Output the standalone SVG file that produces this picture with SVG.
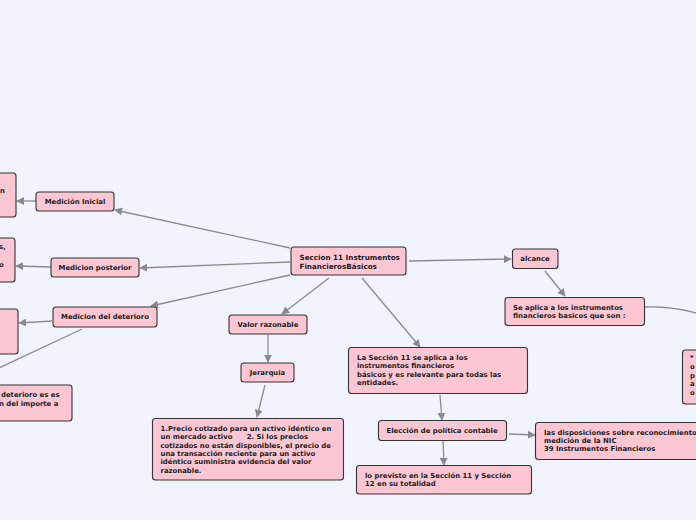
<svg xmlns="http://www.w3.org/2000/svg" width="696" height="520" viewBox="0 0 696 520">
<defs>
<marker id="ah" viewBox="0 0 10 10" refX="9" refY="5" markerWidth="8" markerHeight="8" markerUnits="userSpaceOnUse" orient="auto">
<path d="M0,0 L10,5 L0,10 z" fill="#8a8a8e"/>
</marker>
</defs>
<style>
.bg{fill:#f2f4fd}
.n{fill:#fcc7d3;stroke:#333;stroke-width:1.1}
.t{font-family:"DejaVu Sans",Verdana,sans-serif;font-weight:bold;font-size:6.9px;fill:#1a1a1a}
.c{fill:none;stroke:#8a8a8e;stroke-width:1.3}
.a{marker-end:url(#ah)}
</style>
<rect class="bg" x="0" y="0" width="696" height="520"/>
<g id="connectors">
<path class="c a" d="M290,248 L115,210"/>
<path class="c a" d="M36,201 L17,201"/>
<path class="c a" d="M290,262 L140,268"/>
<path class="c a" d="M51,267 L16,266"/>
<path class="c a" d="M290,275 L151,306"/>
<path class="c a" d="M52,321 L19,323"/>
<path class="c" d="M82,329 L-20,377"/>
<path class="c a" d="M329,278 L282,314"/>
<path class="c a" d="M268,335 L268,362"/>
<path class="c a" d="M265,385 L257,417"/>
<path class="c a" d="M362,278 L420,347"/>
<path class="c a" d="M440,395 L442,420"/>
<path class="c a" d="M509,434 L535,435"/>
<path class="c a" d="M443,441 L444,465"/>
<path class="c a" d="M409,261 L511,259"/>
<path class="c a" d="M545,271 L565,296"/>
<path class="c" d="M645,307 Q672,306 700,314"/>
</g>
<g id="n-central">
<rect class="n" x="291" y="247" width="115" height="28" rx="3"/>
<text class="t" x="299.5" y="260" style="font-size:7.2px">Seccion 11 Instrumentos</text>
<text class="t" x="299.5" y="268.5" style="font-size:7.2px">FinancierosBásicos</text>
</g>
<g id="n-medicion-inicial">
<rect class="n" x="36" y="192" width="78" height="19" rx="3"/>
<text class="t" x="75" y="204" text-anchor="middle">Medición Inicial</text>
</g>
<g id="n-left1">
<rect class="n" x="-6" y="173" width="22" height="44" rx="3"/>
<text class="t" x="0" y="193">n</text>
</g>
<g id="n-medicion-posterior">
<rect class="n" x="51" y="258" width="88" height="19" rx="3"/>
<text class="t" x="95" y="270" text-anchor="middle">Medicion posterior</text>
</g>
<g id="n-left2">
<rect class="n" x="-6" y="238" width="21" height="44" rx="3"/>
<text class="t" x="-1" y="249">s,</text>
<text class="t" x="-1" y="267">o</text>
</g>
<g id="n-medicion-deterioro">
<rect class="n" x="53" y="307" width="104" height="20" rx="3"/>
<text class="t" x="105" y="319" text-anchor="middle">Medicion del deterioro</text>
</g>
<g id="n-left3">
<rect class="n" x="-6" y="309" width="24" height="45" rx="3"/>
</g>
<g id="n-left4">
<rect class="n" x="-6" y="385" width="78" height="36" rx="3"/>
<text class="t" x="1" y="397">deterioro es es</text>
<text class="t" x="-1" y="405.5">n del importe a</text>
</g>
<g id="n-valor-razonable">
<rect class="n" x="229" y="315" width="78" height="19" rx="3"/>
<text class="t" x="268" y="327" text-anchor="middle">Valor razonable</text>
</g>
<g id="n-jerarquia">
<rect class="n" x="241" y="363" width="53" height="19" rx="3"/>
<text class="t" x="267.5" y="375" text-anchor="middle">Jerarquia</text>
</g>
<g id="n-precio">
<rect class="n" x="152.5" y="418.5" width="191" height="61.5" rx="3"/>
<text class="t" x="160.5" y="431">1.Precio cotizado para un activo idéntico en</text>
<text class="t" x="160.5" y="439.3">un mercado activo&#160;&#160;&#160;&#160;&#160;&#160;2. Si los precios</text>
<text class="t" x="160.5" y="447.6">cotizados no están disponibles, el precio de</text>
<text class="t" x="160.5" y="455.9">una transacción reciente para un activo</text>
<text class="t" x="160.5" y="464.2">idéntico suministra evidencia del valor</text>
<text class="t" x="160.5" y="472.5">razonable.</text>
</g>
<g id="n-seccion11">
<rect class="n" x="348.5" y="347.5" width="179" height="46" rx="3"/>
<text class="t" x="357" y="359.5">La Sección 11 se aplica a los</text>
<text class="t" x="357" y="368">instrumentos financieros</text>
<text class="t" x="357" y="376.5">básicos y es relevante para todas las</text>
<text class="t" x="357" y="385">entidades.</text>
</g>
<g id="n-eleccion">
<rect class="n" x="378.5" y="420.5" width="128" height="20" rx="3"/>
<text class="t" x="442" y="432.5" text-anchor="middle">Elección de política contable</text>
</g>
<g id="n-disposiciones">
<rect class="n" x="535.5" y="422.5" width="170" height="37" rx="3"/>
<text class="t" x="544" y="434.5">las disposiciones sobre reconocimiento y</text>
<text class="t" x="544" y="442.8">medición de la NIC</text>
<text class="t" x="544" y="451.1">39 Instrumentos Financieros</text>
</g>
<g id="n-previsto">
<rect class="n" x="356.5" y="465.5" width="175" height="28.5" rx="3"/>
<text class="t" x="365" y="477.5">lo previsto en la Sección 11 y Sección</text>
<text class="t" x="365" y="486">12 en su totalidad</text>
</g>
<g id="n-alcance">
<rect class="n" x="512.5" y="249" width="45.5" height="19.5" rx="3"/>
<text class="t" x="535" y="261" text-anchor="middle">alcance</text>
</g>
<g id="n-se-aplica">
<rect class="n" x="505" y="297.5" width="139.5" height="28" rx="3"/>
<text class="t" x="513" y="310">Se aplica a los instrumentos</text>
<text class="t" x="513" y="318">financieros basicos que son :</text>
</g>
<g id="n-right">
<rect class="n" x="682.5" y="350" width="30" height="54" rx="3"/>
<text class="t" x="690" y="360">*</text>
<text class="t" x="690" y="369">o</text>
<text class="t" x="690" y="377.5">p</text>
<text class="t" x="690" y="386">a</text>
<text class="t" x="690" y="394.5">o</text>
</g>
</svg>
